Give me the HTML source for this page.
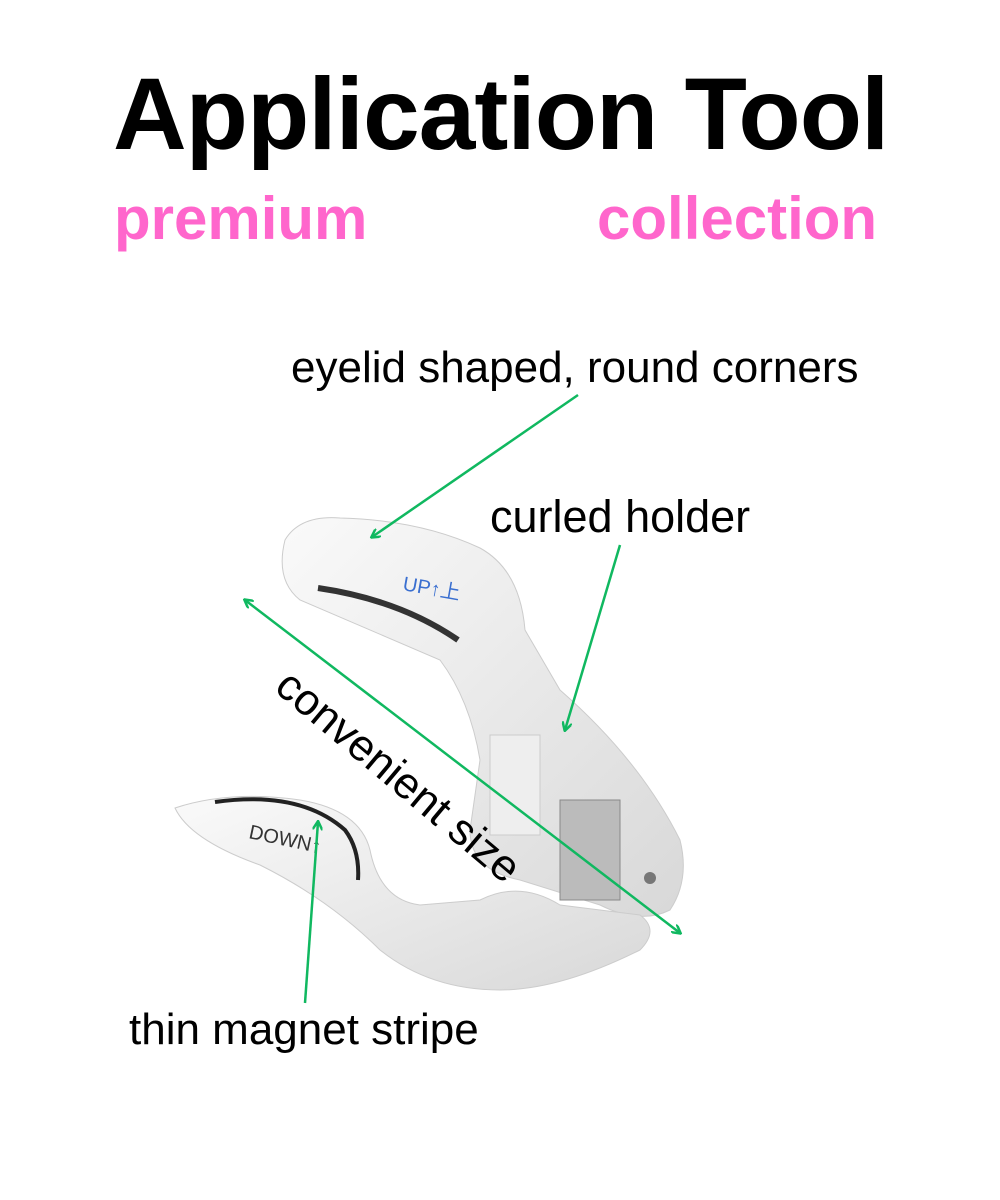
<!DOCTYPE html>
<html><head><meta charset="utf-8"><style>
html,body{margin:0;padding:0;background:#fff;}
body{width:1000px;height:1200px;position:relative;overflow:hidden;font-family:"Liberation Sans",Arial,sans-serif;}
.t{position:absolute;white-space:nowrap;}
</style></head><body>
<div class="t" style="left:113px;top:56px;font-size:102px;font-weight:bold;color:#000;letter-spacing:-1px;">Application Tool</div>
<div class="t" style="left:114px;top:184px;font-size:60px;font-weight:bold;color:#ff66cc;">premium</div>
<div class="t" style="left:597px;top:184px;font-size:60px;font-weight:bold;color:#ff66cc;">collection</div>
<svg width="1000" height="1200" style="position:absolute;left:0;top:0">
<defs>
<linearGradient id="g" x1="0" y1="0" x2="1" y2="1"><stop offset="0" stop-color="#fafafa"/><stop offset="1" stop-color="#d8d8d8"/></linearGradient>
<marker id="a" markerWidth="10" markerHeight="10" refX="8" refY="5" orient="auto-start-reverse" markerUnits="userSpaceOnUse"><path d="M0,0 L9,5 L0,10" fill="none" stroke="#10b860" stroke-width="2.5"/></marker>
</defs>
<path d="M285,540 Q300,515 340,518 Q420,520 480,548 Q520,570 525,630 L560,690 Q640,760 680,840 Q690,880 670,910 Q640,925 600,905 L520,880 Q470,870 470,830 L480,760 Q470,700 440,660 L300,600 Q275,580 285,540 Z" fill="url(#g)" stroke="#ccc"/>
<path d="M318,588 Q400,600 458,640" stroke="#333" stroke-width="6" fill="none"/>
<text x="402" y="590" font-size="20" fill="#3a6fd0" font-family="Liberation Sans" transform="rotate(10 402 590)">UP↑上</text>
<rect x="490" y="735" width="50" height="100" fill="#eee" stroke="#ccc"/>
<rect x="560" y="800" width="60" height="100" fill="#bbb" stroke="#888"/>
<circle cx="650" cy="878" r="6" fill="#777"/>
<path d="M175,808 Q230,790 300,800 Q360,810 370,850 Q380,900 420,905 L480,900 Q520,880 560,905 L640,915 Q660,930 640,950 Q560,990 500,990 Q430,990 380,950 Q330,900 260,865 Q190,840 175,808 Z" fill="url(#g)" stroke="#ccc"/>
<path d="M215,802 Q300,790 345,830 Q360,850 358,880" stroke="#222" stroke-width="4" fill="none"/>
<text x="248" y="838" font-size="20" fill="#333" font-family="Liberation Sans" transform="rotate(12 248 838)">DOWN↑</text>
<g stroke="#10b860" stroke-width="2.5" fill="none">
<line x1="578" y1="395" x2="372" y2="537" marker-end="url(#a)"/>
<line x1="620" y1="545" x2="565" y2="730" marker-end="url(#a)"/>
<line x1="245" y1="600" x2="680" y2="933" marker-start="url(#a)" marker-end="url(#a)"/>
<line x1="305" y1="1003" x2="318" y2="822" marker-end="url(#a)"/>
</g>
</svg>
<div class="t" style="left:291px;top:343px;font-size:44px;color:#000;">eyelid shaped, round corners</div>
<div class="t" style="left:490px;top:491px;font-size:45px;color:#000;">curled holder</div>
<div class="t" style="left:129px;top:1005px;font-size:44px;color:#000;">thin magnet stripe</div>
<div class="t" style="left:298px;top:660px;font-size:44px;color:#000;transform:rotate(40deg);transform-origin:0 0;">convenient size</div>
</body></html>
